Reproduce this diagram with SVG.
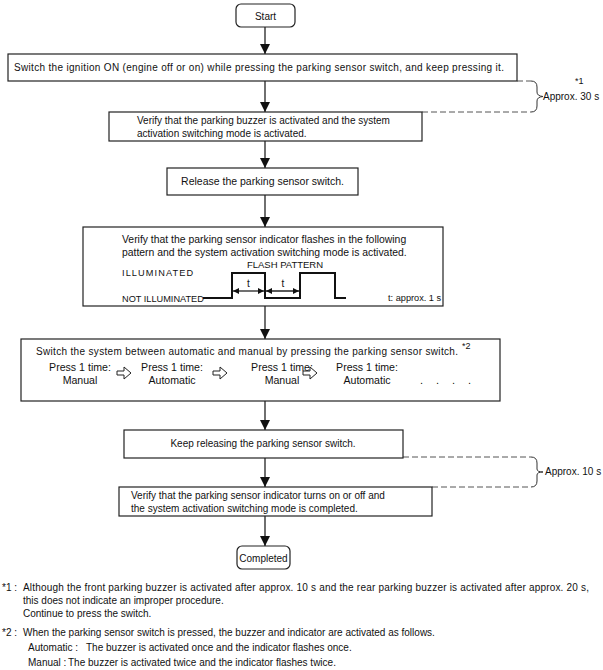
<svg xmlns="http://www.w3.org/2000/svg" width="603" height="670" viewBox="0 0 603 670">
<defs>
<style>
text{font-family:"Liberation Sans",Arial,sans-serif;font-size:10px;fill:#111}
.box{fill:#fff;stroke:#222;stroke-width:1.2}
.ln{stroke:#222;stroke-width:1.3;fill:none}
.dash{stroke:#555;stroke-width:1;fill:none;stroke-dasharray:6 3}
.br{stroke:#333;stroke-width:1;fill:none}
.wave{stroke:#111;stroke-width:2;fill:none}
.ha{fill:#fff;stroke:#222;stroke-width:1}
.c{text-anchor:middle}
.sm{font-size:9px}
.lb{font-size:9.2px}
.pr{font-size:10.6px}
</style>
<marker id="ah" markerWidth="10" markerHeight="10" refX="10" refY="5" orient="auto" markerUnits="userSpaceOnUse">
<path d="M0,0 L10,5 L0,10 Z" fill="#111"/>
</marker>
<marker id="sa" markerWidth="6" markerHeight="6" refX="6" refY="3" orient="auto-start-reverse" markerUnits="userSpaceOnUse">
<path d="M0,0 L6,3 L0,6 Z" fill="#111"/>
</marker>
</defs>
<rect width="603" height="670" fill="#fff"/>

<g id="connectors">
<line class="ln" x1="265" y1="27" x2="265" y2="54" marker-end="url(#ah)"/>
<line class="ln" x1="265" y1="81" x2="265" y2="112" marker-end="url(#ah)"/>
<line class="ln" x1="265" y1="141" x2="265" y2="168" marker-end="url(#ah)"/>
<line class="ln" x1="265" y1="195" x2="265" y2="227" marker-end="url(#ah)"/>
<line class="ln" x1="265" y1="306" x2="265" y2="339" marker-end="url(#ah)"/>
<line class="ln" x1="265" y1="401" x2="265" y2="430" marker-end="url(#ah)"/>
<line class="ln" x1="265" y1="458" x2="265" y2="487" marker-end="url(#ah)"/>
<line class="ln" x1="265" y1="516" x2="265" y2="546" marker-end="url(#ah)"/>
</g>

<g id="bracket1">
<path class="dash" d="M517,81 H531"/>
<path class="dash" d="M422,112 H531"/>
<path class="br" d="M531,81 Q537,81 537,87 V92 Q537,96 543,96.5 Q537,97 537,101 V106 Q537,112 531,112"/>
<text x="575" y="84" class="sm">*1</text>
<text x="543" y="100">Approx. 30 s</text>
</g>

<g id="bracket2">
<path class="dash" d="M403,457 H531"/>
<path class="dash" d="M432,487 H531"/>
<path class="br" d="M531,457 Q537,457 537,463 V469 Q537,472 543,472 Q537,472 537,475 V481 Q537,487 531,487"/>
<text x="545" y="475">Approx. 10 s</text>
</g>

<g id="start">
<rect class="box" x="236" y="4" width="59" height="23" rx="5"/>
<text x="265.5" y="19.5" class="c">Start</text>
</g>

<g id="step1">
<rect class="box" x="8" y="54" width="509" height="27"/>
<text x="14" y="71" textLength="490" lengthAdjust="spacing">Switch the ignition ON (engine off or on) while pressing the parking sensor switch, and keep pressing it.</text>
</g>

<g id="step2">
<rect class="box" x="109" y="112" width="313" height="29"/>
<text x="137" y="124">Verify that the parking buzzer is activated and the system</text>
<text x="137" y="137">activation switching mode is activated.</text>
</g>

<g id="step3">
<rect class="box" x="167" y="168" width="191" height="27"/>
<text x="262.5" y="185" class="c" style="font-size:10.5px">Release the parking sensor switch.</text>
</g>

<g id="step4">
<rect class="box" x="83" y="227" width="360" height="79"/>
<text x="122" y="243" style="font-size:10.4px">Verify that the parking sensor indicator flashes in the following</text>
<text x="122" y="256" style="font-size:10.4px">pattern and the system activation switching mode is activated.</text>
<text x="285" y="268" class="c" style="font-size:9.5px">FLASH PATTERN</text>
<text x="122" y="276" class="lb" style="letter-spacing:1.1px">ILLUMINATED</text>
<text x="122" y="302" class="lb">NOT ILLUMINATED</text>
<path class="wave" d="M203,298 H232 V273 H265 V298 H300 V273 H335 V298 H346"/>
<line class="ln" x1="233" y1="291" x2="264" y2="291" stroke-width="1" marker-start="url(#sa)" marker-end="url(#sa)"/>
<line class="ln" x1="266" y1="291" x2="299" y2="291" stroke-width="1" marker-start="url(#sa)" marker-end="url(#sa)"/>
<text x="248.5" y="287" class="c">t</text>
<text x="283" y="287" class="c">t</text>
<text x="388" y="301" class="lb">t: approx. 1 s</text>
</g>

<g id="step5">
<rect class="box" x="21" y="339" width="479" height="62"/>
<text x="36" y="355" textLength="422" lengthAdjust="spacing">Switch the system between automatic and manual by pressing the parking sensor switch.</text>
<text x="462" y="349" class="sm">*2</text>
<text x="80" y="371" class="c pr">Press 1 time:</text>
<text x="80" y="384" class="c pr">Manual</text>
<path class="ha" d="M117,371 H124 V367 L131,373 L124,379 V375 H117 Z"/>
<text x="172" y="371" class="c pr">Press 1 time:</text>
<text x="172" y="384" class="c pr">Automatic</text>
<path class="ha" d="M213,371 H220 V367 L227,373 L220,379 V375 H213 Z"/>
<text x="282" y="371" class="c pr">Press 1 time:</text>
<text x="282" y="384" class="c pr">Manual</text>
<path class="ha" d="M303,371 H310 V367 L317,373 L310,379 V375 H303 Z"/>
<text x="367" y="371" class="c pr">Press 1 time:</text>
<text x="367" y="384" class="c pr">Automatic</text>
<text x="420" y="384" style="font-size:11px">.</text>
<text x="436" y="384" style="font-size:11px">.</text>
<text x="452" y="384" style="font-size:11px">.</text>
<text x="468" y="384" style="font-size:11px">.</text>
</g>

<g id="step6">
<rect class="box" x="124" y="430" width="279" height="28"/>
<text x="263" y="447" class="c">Keep releasing the parking sensor switch.</text>
</g>

<g id="step7">
<rect class="box" x="119" y="487" width="313" height="29"/>
<text x="131" y="499">Verify that the parking sensor indicator turns on or off and</text>
<text x="131" y="512">the system activation switching mode is completed.</text>
</g>

<g id="completed">
<rect class="box" x="237" y="546" width="53" height="23" rx="5"/>
<text x="263.5" y="561.5" class="c">Completed</text>
</g>

<g id="notes">
<text x="2" y="591">*1 :</text>
<text x="23" y="591" textLength="566" lengthAdjust="spacing">Although the front parking buzzer is activated after approx. 10 s and the rear parking buzzer is activated after approx. 20 s,</text>
<text x="23" y="604">this does not indicate an improper procedure.</text>
<text x="23" y="617">Continue to press the switch.</text>
<text x="2" y="636">*2 :</text>
<text x="23" y="636">When the parking sensor switch is pressed, the buzzer and indicator are activated as follows.</text>
<text x="28" y="651">Automatic :</text>
<text x="86" y="651">The buzzer is activated once and the indicator flashes once.</text>
<text x="28" y="666">Manual :</text>
<text x="68" y="666">The buzzer is activated twice and the indicator flashes twice.</text>
</g>
</svg>
